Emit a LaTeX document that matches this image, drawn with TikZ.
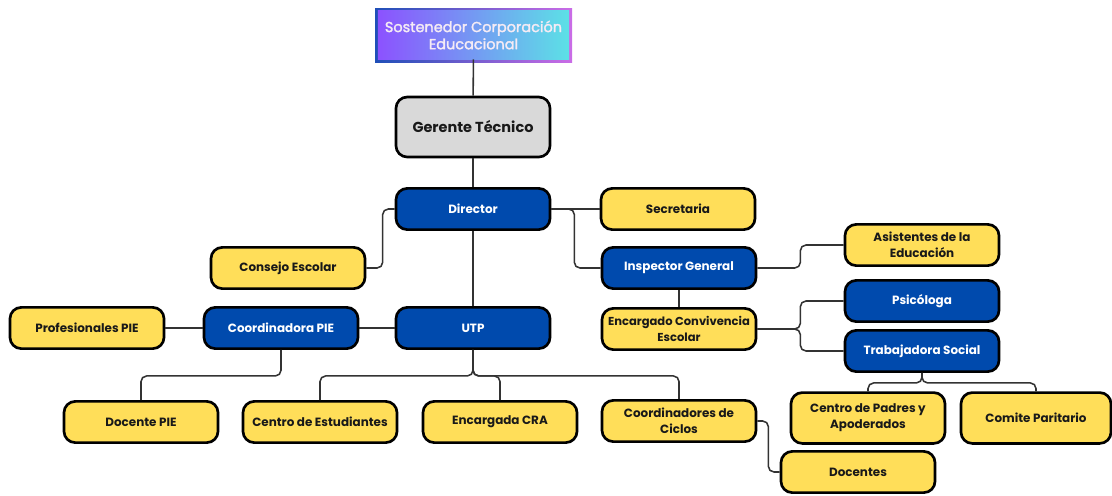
\documentclass[tikz,border=0pt]{standalone}
\usepackage{fontspec}
\setmainfont{Poppins}
\newfontfamily\popmedium{Poppins}[FakeBold=2]
\usepackage{tikz}
\usetikzlibrary{positioning,calc}

\definecolor{orgblue}{HTML}{004AAD}
\definecolor{orgyellow}{HTML}{FFDE59}
\definecolor{orggrey}{HTML}{D9D9D9}
\definecolor{gradA}{HTML}{8C52FF}
\definecolor{gradB}{HTML}{5CE1E6}
\definecolor{rimA}{HTML}{1F4FB8}
\definecolor{rimB}{HTML}{CB6CE6}
\definecolor{lineg}{HTML}{333333}

\begin{document}
\begin{tikzpicture}[
    x=0.025cm, y=-0.025cm,
    box/.style={rectangle, draw=black, line width=1.9pt, rounded corners=8pt, minimum width=3.85cm, minimum height=1.03cm, align=center, inner sep=1pt, font=\fontsize{8.5}{11.2}\selectfont\bfseries},
    yellowbox/.style={box, fill=orgyellow, text=black!90},
    bluebox/.style={box, fill=orgblue, text=white},
    conn/.style={draw=lineg, line width=1.1pt, rounded corners=4pt}
]
    \useasboundingbox (0,0) rectangle (1112,495);

    % Top of the chart
    \shade[left color=rimA, right color=rimB] (375,8) rectangle (572,62);
    \node[rectangle, left color=gradA, right color=gradB, minimum width=4.78cm, minimum height=1.2cm, align=center, inner sep=1pt, text=white!92!violet, font=\fontsize{10.3}{12.2}\popmedium] (sostenedor) at (473.5,35) {Sostenedor Corporación\\Educacional};
    \node[box, fill=orggrey, text=black!90, minimum height=1.5cm, font=\fontsize{10.3}{12}\selectfont\bfseries] (gerente) at (473,127) {Gerente Técnico};

    % Direction
    \node[bluebox] (director) at (473,209) {Director};
    \node[yellowbox] (secretaria) at (678,209) {Secretaria};
    \node[yellowbox] (consejo) at (288,268) {Consejo Escolar};
    \node[bluebox] (inspector) at (679,268) {Inspector General};
    \node[yellowbox] (asistentes) at (922,245) {Asistentes de la\\Educación};
    \node[yellowbox, font=\fontsize{8.2}{11}\selectfont\bfseries] (convivencia) at (679,329) {Encargado Convivencia\\Escolar};
    \node[bluebox] (psicologa) at (922,301) {Psicóloga};
    \node[bluebox] (trabajadora) at (922,351) {Trabajadora Social};

    % Middle row
    \node[yellowbox] (profpie) at (87,328) {Profesionales PIE};
    \node[bluebox] (coordpie) at (281,328) {Coordinadora PIE};
    \node[bluebox] (utp) at (473,328) {UTP};

    % Bottom row
    \node[yellowbox] (docentepie) at (141,422) {Docente PIE};
    \node[yellowbox] (centroest) at (320,422) {Centro de Estudiantes};
    \node[yellowbox] (cra) at (500,422) {Encargada CRA};
    \node[yellowbox] (ciclos) at (679,421) {Coordinadores de\\Ciclos};
    \node[yellowbox] (docentes) at (858,472) {Docentes};
    \node[yellowbox, minimum height=1.27cm] (padres) at (868,418) {Centro de Padres y\\Apoderados};
    \node[yellowbox, minimum width=3.75cm, minimum height=1.27cm] (comite) at (1036,418) {Comite Paritario};

    % Connectors
    \draw[conn] (sostenedor) -- (gerente);
    \draw[conn] (gerente) -- (director);
    \draw[conn] (director) -- (utp);
    \draw[conn] (director.west) -- ++(-12,0) |- (consejo.east);
    \draw[conn] (director.east) -- (secretaria.west);
    \draw[conn] (director.east) -- ++(23,0) |- (inspector.west);
    \draw[conn] (inspector.east) -- ++(43,0) |- (asistentes.west);
    \draw[conn] (inspector) -- (convivencia);
    \draw[conn] (convivencia.east) -- ++(43,0) |- (psicologa.west);
    \draw[conn] (convivencia.east) -- ++(43,0) |- (trabajadora.west);
    \draw[conn] (trabajadora.south) -- ++(0,10) -| (padres.north);
    \draw[conn] (trabajadora.south) -- ++(0,10) -| (comite.north);
    \draw[conn] (utp) -- (coordpie);
    \draw[conn] (coordpie) -- (profpie);
    \draw[conn] (coordpie.south) -- ++(0,26) -| (docentepie.north);
    \draw[conn] (utp.south) -- ++(0,26) -| (centroest.north);
    \draw[conn] (utp.south) -- ++(0,26) -| (cra.north);
    \draw[conn] (utp.south) -- ++(0,26) -| (ciclos.north);
    \draw[conn] (ciclos.east) -- ++(11,0) |- (docentes.west);
\end{tikzpicture}
\end{document}
